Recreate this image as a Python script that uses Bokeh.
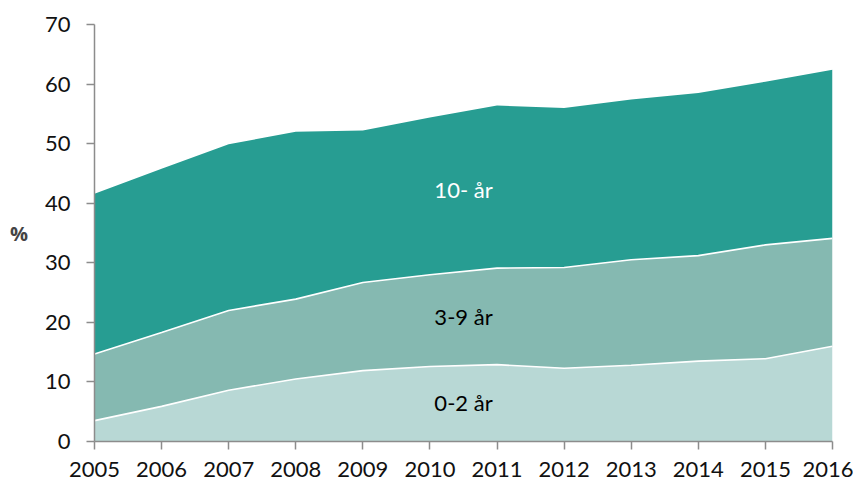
import numpy as np
from bokeh.plotting import figure
from bokeh.models import Range1d, FixedTicker, Label
from bokeh.embed import file_html
from bokeh.resources import INLINE

years = [2005, 2006, 2007, 2008, 2009, 2010, 2011, 2012, 2013, 2014, 2015, 2016]
age_0_2 = [3.5, 5.9, 8.6, 10.5, 11.9, 12.6, 12.9, 12.3, 12.8, 13.5, 13.9, 16.0]
age_3_9 = [11.2, 12.4, 13.4, 13.4, 14.8, 15.4, 16.2, 16.9, 17.7, 17.7, 19.1, 18.1]
age_10 = [26.9, 27.5, 27.9, 28.1, 25.5, 26.4, 27.3, 26.8, 26.9, 27.3, 27.4, 28.3]
series_names = ["0-2 år", "3-9 år", "10- år"]
y_ticks = [0, 10, 20, 30, 40, 50, 60, 70]

colors = ["#B8D8D5", "#85B9B1", "#279D92"]
label_colors = ["#000000", "#000000", "#FFFFFF"]
FONT = "Lato"

p = figure(width=853, height=484, output_backend="svg", toolbar_location=None,
           x_range=Range1d(2005, 2016), y_range=Range1d(0, 70),
           min_border_left=94, min_border_right=21, min_border_top=24, min_border_bottom=43)

s0 = np.array(age_0_2)
s1 = s0 + np.array(age_3_9)
s2 = s1 + np.array(age_10)
zero = np.zeros(len(years))

p.varea(x=years, y1=zero, y2=s0, fill_color=colors[0])
p.varea(x=years, y1=s0, y2=s1, fill_color=colors[1])
p.varea(x=years, y1=s1, y2=s2, fill_color=colors[2])
p.line(x=years, y=s0, line_color="white", line_width=1.6)
p.line(x=years, y=s1, line_color="white", line_width=1.6)

label_x = 2010.5
label_y = [6.6, 20.9, 42.3]
for name, yv, c in zip(series_names, label_y, label_colors):
    p.add_layout(Label(x=label_x, y=yv, text=name, text_color=c, text_font=FONT,
                       text_font_size="22px", text_align="center", text_baseline="middle"))

p.grid.visible = False
p.outline_line_color = None

for ax in (p.xaxis[0], p.yaxis[0]):
    ax.axis_line_color = "#8C8C8C"
    ax.axis_line_width = 1.5
    ax.major_tick_line_color = "#8C8C8C"
    ax.major_tick_line_width = 1.5
    ax.major_tick_out = 8
    ax.major_tick_in = 0
    ax.minor_tick_line_color = None
    ax.major_label_text_font = FONT
    ax.major_label_text_font_size = "22px"
    ax.major_label_text_color = "#111111"

p.xaxis.ticker = FixedTicker(ticks=years)
p.yaxis.ticker = FixedTicker(ticks=y_ticks)
p.xaxis.major_label_standoff = 12
p.yaxis.major_label_standoff = 16
p.yaxis.axis_label = "%"
p.yaxis.axis_label_orientation = "horizontal"
p.yaxis.axis_label_text_font = "Open Sans"
p.yaxis.axis_label_text_font_style = "bold"
p.yaxis.axis_label_text_font_size = "20px"
p.yaxis.axis_label_standoff = 14

open("out.html", "w").write(file_html(p, INLINE))
